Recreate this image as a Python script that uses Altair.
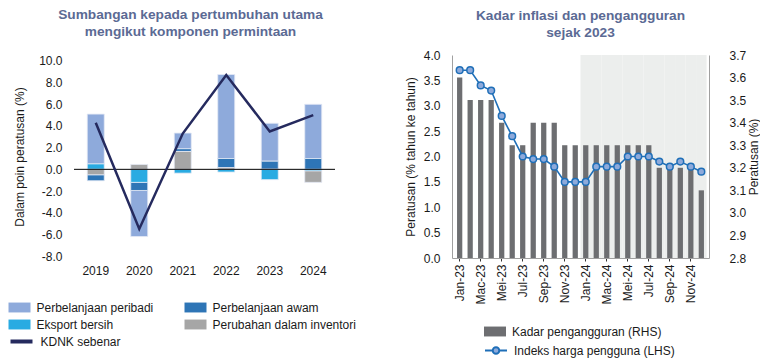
import altair as alt
import pandas as pd

# ---------------- Left chart data ----------------
years = ["2019", "2020", "2021", "2022", "2023", "2024"]
peribadi = [4.6, -4.25, 1.45, 7.75, 3.5, 5.0]
awam = [-0.55, -0.75, 0.25, 0.85, 0.75, 1.0]
eksport = [0.5, -1.2, -0.35, -0.25, -0.95, -0.15]
inventori = [-0.5, 0.45, 1.65, 0.15, 0.0, -1.05]
kdnk = [4.3, -5.5, 3.3, 8.7, 3.5, 5.0]

# legend order (column-major in a 2-column legend)
comp_names = ["Perbelanjaan peribadi", "Eksport bersih", "Perbelanjaan awam", "Perubahan dalam inventori"]
comp_colors = ["#8eaadb", "#29abe2", "#2e75b6", "#a6a6a6"]
stack_order = {"Eksport bersih": 0, "Perubahan dalam inventori": 1, "Perbelanjaan awam": 2, "Perbelanjaan peribadi": 3}
gdp_name = "KDNK sebenar"
left_ticks = [-8, -6, -4, -2, 0, 2, 4, 6, 8, 10]

# ---------------- Right chart data ----------------
months = ["Jan-23", "Feb-23", "Mac-23", "Apr-23", "Mei-23", "Jun-23", "Jul-23", "Ogo-23", "Sep-23", "Okt-23", "Nov-23", "Dis-23",
          "Jan-24", "Feb-24", "Mac-24", "Apr-24", "Mei-24", "Jun-24", "Jul-24", "Ogo-24", "Sep-24", "Okt-24", "Nov-24", "Dis-24"]
cpi = [3.7, 3.7, 3.4, 3.3, 2.8, 2.4, 2.0, 1.95, 1.95, 1.8, 1.5, 1.5,
       1.5, 1.8, 1.8, 1.8, 2.0, 2.0, 2.0, 1.9, 1.8, 1.9, 1.8, 1.7]
unemp = [3.6, 3.5, 3.5, 3.5, 3.4, 3.3, 3.3, 3.4, 3.4, 3.4, 3.3, 3.3,
         3.3, 3.3, 3.3, 3.3, 3.3, 3.3, 3.3, 3.2, 3.2, 3.2, 3.2, 3.1]
shade_months = months[12:]
unemp_name = "Kadar pengangguran (RHS)"
cpi_name = "Indeks harga pengguna (LHS)"
cpi_ticks = [0, 0.5, 1, 1.5, 2, 2.5, 3, 3.5, 4]
unemp_ticks = [2.8, 2.9, 3.0, 3.1, 3.2, 3.3, 3.4, 3.5, 3.6, 3.7]

FONT = "Liberation Sans"
TITLE_COLOR = "#5b6a94"

# ---------------- Build tables ----------------
rows = []
series = {"Perbelanjaan peribadi": peribadi, "Perbelanjaan awam": awam,
          "Eksport bersih": eksport, "Perubahan dalam inventori": inventori}
for name, vals in series.items():
    for y, v in zip(years, vals):
        rows.append({"year": y, "component": name, "value": v, "ord": stack_order[name]})
df_comp = pd.DataFrame(rows)
df_gdp = pd.DataFrame({"year": years, "value": kdnk, "s": gdp_name})
df_zero = pd.DataFrame({"value": [0.0]})

df_r = pd.DataFrame({"month": months, "cpi": cpi, "unemp": unemp, "u": unemp_name, "c": cpi_name})
df_shade = pd.DataFrame({"month": shade_months, "top": 3.7, "bottom": 2.8})

neg_label = "(datum.value < 0 ? '-' : '') + format(abs(datum.value), '.1f')"

# ---------------- Left chart ----------------
axis_ly = alt.Axis(values=left_ticks, labelExpr=neg_label, domain=False, ticks=False,
                   grid=False, labelOverlap=False, title="Dalam poin peratusan (%)",
                   titlePadding=12, labelPadding=12)
scale_ly = alt.Scale(domain=[-8.18, 10.55], nice=False, zero=False)
x_l = alt.X("year:N", sort=years, scale=alt.Scale(paddingInner=0, paddingOuter=0),
            axis=alt.Axis(title=None, labelAngle=0, domain=False, ticks=False, labelPadding=7))

bars_l = alt.Chart(df_comp).mark_bar(size=17, stroke="#e4eaf5", strokeWidth=0.8).encode(
    x=x_l,
    y=alt.Y("value:Q", stack="zero", scale=scale_ly, axis=axis_ly),
    color=alt.Color("component:N", scale=alt.Scale(domain=comp_names, range=comp_colors),
                    legend=alt.Legend(title=None, orient="none", legendX=-65.5, legendY=241.5, columns=2,
                                      columnPadding=31, rowPadding=-4,
                                      symbolType="M-1,-0.45H1V0.45H-1Z", symbolSize=484,
                                      symbolStrokeWidth=0, labelOffset=6)),
    order=alt.Order("ord:Q"),
)
zero_l = alt.Chart(df_zero).mark_rule(color="black", strokeWidth=1).encode(
    y=alt.Y("value:Q", scale=scale_ly, axis=axis_ly))
line_l = alt.Chart(df_gdp).mark_line(strokeWidth=2.5).encode(
    x=x_l,
    y=alt.Y("value:Q", scale=scale_ly, axis=axis_ly),
    stroke=alt.Stroke("s:N", scale=alt.Scale(domain=[gdp_name], range=["#252a5e"]),
                      legend=alt.Legend(title=None, orient="none", legendX=-65.5, legendY=273.5,
                                        symbolType="stroke", symbolSize=484, symbolStrokeWidth=4,
                                        labelOffset=6)),
)
left = alt.layer(bars_l, zero_l, line_l).properties(
    width=261, height=203,
    title=alt.TitleParams(["Sumbangan kepada pertumbuhan utama", "mengikut komponen permintaan"],
                          anchor="middle", frame="bounds", offset=16, dx=8),
)

# ---------------- Right chart ----------------
x_r = alt.X("month:N", sort=months, scale=alt.Scale(paddingInner=0, paddingOuter=0.23),
            axis=alt.Axis(values=months[::2], labelAngle=-90, title=None, domainColor="#a0a0a0",
                          tickColor="#333333", tickSize=3, labelPadding=3))
axis_ry = alt.Axis(orient="right", values=unemp_ticks, format=".1f", title="Peratusan (%)",
                   titleAngle=270, titlePadding=15, domainColor="#a0a0a0", ticks=False, grid=False,
                   labelPadding=20, labelOverlap=False)
scale_ry = alt.Scale(domain=[2.8, 3.7], nice=False, zero=False)

shade = alt.Chart(df_shade).mark_bar(color="#eceeed", width=alt.RelativeBandSize(1)).encode(
    x=x_r, y=alt.Y("top:Q", scale=scale_ry, axis=axis_ry), y2="bottom:Q")
bars_r = alt.Chart(df_r).mark_bar(width=alt.RelativeBandSize(0.5)).encode(
    x=x_r,
    y=alt.Y("unemp:Q", scale=scale_ry, axis=axis_ry),
    y2=alt.datum(2.8),
    color=alt.Color("u:N", scale=alt.Scale(domain=[unemp_name], range=["#6d6e71"]),
                    legend=alt.Legend(title=None, orient="none", legendX=32, legendY=265.5,
                                      symbolType="M-1,-0.45H1V0.45H-1Z", symbolSize=484,
                                      symbolStrokeWidth=0, labelOffset=6)),
)
line_r = alt.Chart(df_r).mark_line(
    strokeWidth=1.6,
    point=alt.OverlayMarkDef(filled=True, fill="#8eaadb", stroke="#1f6fb8", strokeWidth=1.5, size=45),
).encode(
    x=x_r,
    y=alt.Y("cpi:Q", scale=alt.Scale(domain=[0, 4], nice=False),
            axis=alt.Axis(orient="left", values=cpi_ticks, format=".1f",
                          title="Peratusan (% tahun ke tahun)", titlePadding=6, domainColor="#a0a0a0",
                          ticks=False, grid=False, labelPadding=12, labelOverlap=False)),
    stroke=alt.Stroke("c:N", scale=alt.Scale(domain=[cpi_name], range=["#1f6fb8"]),
                      legend=alt.Legend(title=None, orient="none", legendX=32, legendY=283.5,
                                        symbolType="M-1,0H-0.3A0.3,0.3 0 1,1 0.3,0A0.3,0.3 0 1,1 -0.3,0M0.3,0H1",
                                        symbolSize=484, symbolStrokeWidth=2, symbolFillColor="#8eaadb",
                                        labelOffset=6)),
)
right = alt.layer(alt.layer(shade, bars_r), line_r).resolve_scale(y="independent").properties(
    width=257, height=203,
    title=alt.TitleParams(["Kadar inflasi dan pengangguran", "sejak 2023"],
                          anchor="middle", frame="group", offset=9),
)

chart = alt.hconcat(left, right, spacing=47).resolve_scale(
    color="independent", stroke="independent"
).resolve_legend(color="independent", stroke="independent").properties(
    padding=0
).configure(
    font=FONT,
).configure_view(stroke=None).configure_axis(
    labelFont=FONT, labelFontSize=12, labelColor="#1a1a1a", titleFont=FONT, titleFontSize=12,
    titleFontWeight="normal", titleColor="#1a1a1a",
).configure_legend(
    labelFont=FONT, labelFontSize=12, labelColor="#1a1a1a", labelLimit=300,
).configure_title(
    font=FONT, fontSize=13.7, fontWeight="bold", color=TITLE_COLOR, lineHeight=17,
)

chart.save("out.html", embed_options={"renderer": "svg", "actions": False})
